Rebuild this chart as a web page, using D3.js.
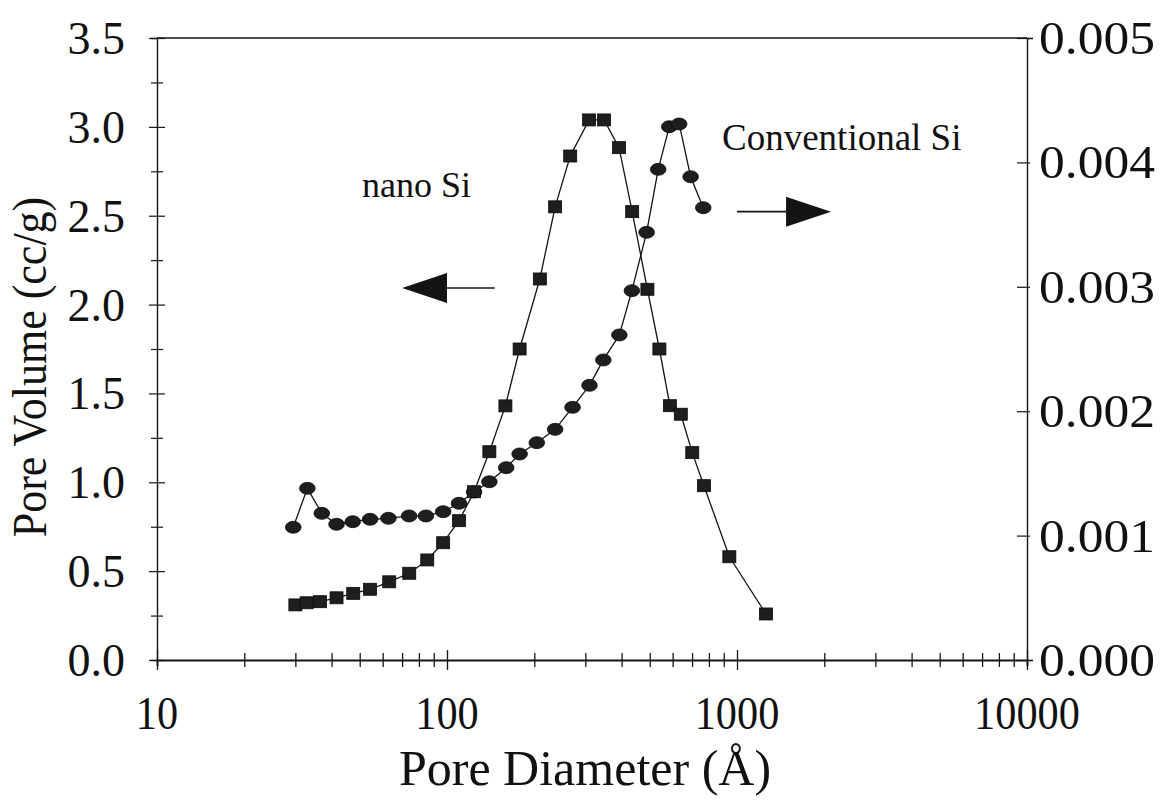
<!DOCTYPE html>
<html>
<head>
<meta charset="utf-8">
<script src="https://cdn.jsdelivr.net/npm/d3@7"></script>
<style>
  html, body { margin: 0; padding: 0; background: #fff; }
  svg { display: block; }
  text { font-family: "Liberation Serif", "Times New Roman", serif; fill: #111; }
</style>
</head>
<body>
<svg id="chart" width="1165" height="811"></svg>
<script>
// Pore size distributions: nano Si (left axis, squares) and conventional Si (right axis, circles)
const nanoDiameter = [30, 32.8, 36.5, 41.6, 47.5, 54.3, 63.2, 74.1, 85.5, 97, 110, 124, 140, 159, 178,
  209, 236, 266, 309, 348, 392, 435, 491, 540, 587, 640, 701, 769, 941, 1259];
const nanoVolume = [0.31, 0.322, 0.328, 0.35, 0.375, 0.398, 0.44, 0.488, 0.563, 0.66, 0.784, 0.947, 1.172, 1.43, 1.75,
  2.144, 2.55, 2.836, 3.039, 3.039, 2.883, 2.523, 2.086, 1.75, 1.431, 1.383, 1.167, 0.981, 0.581, 0.259];

const convDiameter = [29.5, 33, 37, 41.6, 47.3, 54.3, 62.8, 74, 84.6, 97, 110, 124, 140, 160, 178,
  204, 236, 271, 310, 346, 393, 434, 488, 535, 584, 632, 692, 765];
const convVolume = [0.001067, 0.00138, 0.001179, 0.001091, 0.001112, 0.001131, 0.001139, 0.001158, 0.001158, 0.001192,
  0.00126, 0.00135, 0.001433, 0.001546, 0.001656, 0.001747, 0.001854, 0.002031, 0.002208, 0.002412, 0.002613,
  0.002969, 0.003438, 0.003944, 0.004287, 0.004309, 0.003885, 0.003636];

const leftTicks = [0, 0.25, 0.5, 0.75, 1, 1.25, 1.5, 1.75, 2, 2.25, 2.5, 2.75, 3, 3.25, 3.5];
const leftLabels = ["0.0", "0.5", "1.0", "1.5", "2.0", "2.5", "3.0", "3.5"];
const rightTicks = [0, 0.001, 0.002, 0.003, 0.004, 0.005];
const rightLabels = ["0.000", "0.001", "0.002", "0.003", "0.004", "0.005"];
const xDecades = [10, 100, 1000, 10000];
const xLabels = ["10", "100", "1000", "10000"];

const svg = d3.select("#chart");
const plot = { left: 157, right: 1027, top: 38, bottom: 660 };

const x = d3.scaleLog().domain([10, 10000]).range([plot.left, plot.right]);
const yL = d3.scaleLinear().domain([0, 3.5]).range([plot.bottom, plot.top]);
const yR = d3.scaleLinear().domain([0, 0.005]).range([plot.bottom, plot.top]);

const ink = "#141414";

// frame top edge
svg.append("line")
  .attr("x1", plot.left).attr("x2", plot.right).attr("y1", plot.top).attr("y2", plot.top)
  .attr("stroke", ink).attr("stroke-width", 1.4);

// x axis with all 1..9 subdivisions per decade
const xMinor = [];
for (let p = 10; p < 10000; p *= 10) for (let k = 1; k < 10; k++) xMinor.push(p * k);
xMinor.push(10000);
const gx = svg.append("g").attr("transform", `translate(0,${plot.bottom})`)
  .call(d3.axisBottom(x).tickValues(xMinor).tickFormat(() => ""));
gx.select(".domain").attr("stroke", ink).attr("stroke-width", 1.8);
gx.selectAll(".tick line")
  .attr("stroke", ink).attr("stroke-width", 1.3)
  .attr("y1", d => xDecades.includes(d) ? -10 : -7)
  .attr("y2", d => xDecades.includes(d) ? 10 : 7);
gx.selectAll(".tick text").remove();

svg.append("g").selectAll("text").data(xDecades).join("text")
  .attr("transform", d => `translate(${x(d)},729) scale(0.92,1)`)
  .attr("text-anchor", "middle")
  .style("font-size", "46px")
  .text((d, i) => xLabels[i]);

// left axis
const gl = svg.append("g").attr("transform", `translate(${plot.left},0)`)
  .call(d3.axisLeft(yL).tickValues(leftTicks).tickFormat(() => ""));
gl.select(".domain").attr("stroke", ink).attr("stroke-width", 1.4);
gl.selectAll(".tick line")
  .attr("stroke", ink).attr("stroke-width", 1.2)
  .attr("x1", d => (d * 2) % 1 === 0 ? -8 : -6)
  .attr("x2", d => (d * 2) % 1 === 0 ? 8 : 6);
gl.selectAll(".tick text").remove();

const leftMajor = leftTicks.filter(d => (d * 2) % 1 === 0);
svg.append("g").selectAll("text").data(leftMajor).join("text")
  .attr("transform", d => `translate(125,${yL(d) + 16})`)
  .attr("text-anchor", "end")
  .style("font-size", "46px")
  .text((d, i) => leftLabels[i]);

// right axis
const gr = svg.append("g").attr("transform", `translate(${plot.right},0)`)
  .call(d3.axisRight(yR).tickValues(rightTicks).tickFormat(() => ""));
gr.select(".domain").attr("stroke", ink).attr("stroke-width", 1.4);
gr.selectAll(".tick line")
  .attr("stroke", ink).attr("stroke-width", 1.2)
  .attr("x1", -10).attr("x2", 3);
gr.selectAll(".tick text").remove();

svg.append("g").selectAll("text").data(rightTicks).join("text")
  .attr("transform", d => `translate(1039,${yR(d) + 16}) scale(1.12,1)`)
  .attr("text-anchor", "start")
  .style("font-size", "46px")
  .text((d, i) => rightLabels[i]);

// axis titles
svg.append("text")
  .attr("transform", "translate(585,785)")
  .attr("text-anchor", "middle")
  .style("font-size", "50px")
  .text("Pore Diameter (Å)");

svg.append("text")
  .attr("transform", "translate(46,367) rotate(-90) scale(1,1.1)")
  .attr("text-anchor", "middle")
  .style("font-size", "44px")
  .text("Pore Volume (cc/g)");

// series
const conv = convDiameter.map((d, i) => ({ d, v: convVolume[i] }));
const nano = nanoDiameter.map((d, i) => ({ d, v: nanoVolume[i] }));

svg.append("path").datum(conv)
  .attr("fill", "none").attr("stroke", ink).attr("stroke-width", 1.3)
  .attr("d", d3.line().x(p => x(p.d)).y(p => yR(p.v)));
svg.append("path").datum(nano)
  .attr("fill", "none").attr("stroke", ink).attr("stroke-width", 1.3)
  .attr("d", d3.line().x(p => x(p.d)).y(p => yL(p.v)));

svg.append("g").selectAll("ellipse").data(conv).join("ellipse")
  .attr("cx", p => x(p.d)).attr("cy", p => yR(p.v))
  .attr("rx", 7.8).attr("ry", 6)
  .attr("fill", "#1e1e1e").attr("stroke", "#0a0a0a").attr("stroke-width", 0.8);

svg.append("g").selectAll("rect").data(nano).join("rect")
  .attr("x", p => x(p.d) - 6.5).attr("y", p => yL(p.v) - 6)
  .attr("width", 13).attr("height", 12)
  .attr("fill", "#1e1e1e").attr("stroke", "#0a0a0a").attr("stroke-width", 0.8);

// series labels
svg.append("text")
  .attr("transform", "translate(362,197)")
  .style("font-size", "36px")
  .text("nano Si");
svg.append("text")
  .attr("transform", "translate(722,150)")
  .style("font-size", "37px")
  .text("Conventional Si");

// arrows pointing to each series' axis
function arrow(shaftFrom, headBase, tip, v) {
  const yy = yL(v);
  svg.append("line")
    .attr("x1", x(shaftFrom)).attr("x2", x(headBase))
    .attr("y1", yy).attr("y2", yy)
    .attr("stroke", ink).attr("stroke-width", 1.6);
  svg.append("path")
    .attr("d", `M${x(tip)},${yy} L${x(headBase)},${yy - 15} L${x(headBase)},${yy + 15} Z`)
    .attr("fill", ink);
}
arrow(146, 100, 70, 2.093);      // nano Si -> left axis
arrow(1000, 1476, 2110, 2.523);  // conventional Si -> right axis
</script>
</body>
</html>
